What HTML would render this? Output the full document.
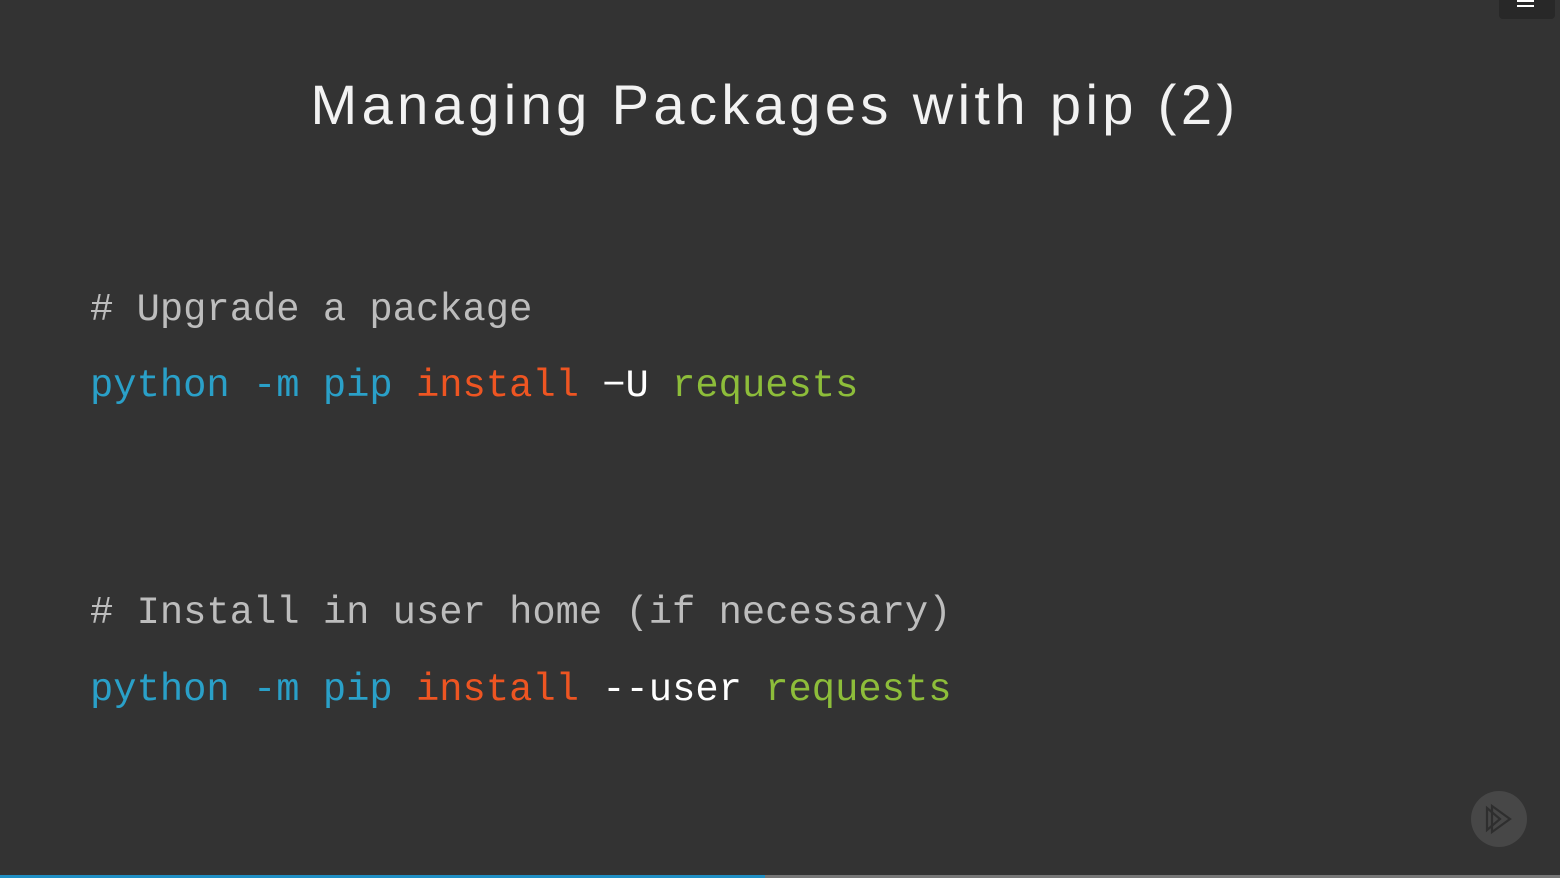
<!DOCTYPE html>
<html><head><style>
html,body{margin:0;padding:0}
body{width:1560px;height:878px;background:#333333;position:relative;overflow:hidden;font-family:"Liberation Sans",sans-serif}
.t{position:absolute;left:0;width:1550px;top:70px;text-align:center;color:#f2f2f2;font-size:56px;line-height:70px;letter-spacing:4.4px}
.c{position:absolute;left:90px;font-family:"Liberation Mono",monospace;font-size:38.8px;line-height:50px;white-space:pre;color:#fff}
.g{color:#bdbdbd}.b{color:#2aa0c8}.r{color:#ee5522}.gr{color:#8dbd3a}
</style></head><body>
<div class="t">Managing Packages with pip (2)</div>
<div class="c g" style="top:285px"># Upgrade a package</div>
<div class="c" style="top:361px"><span class="b">python -m pip</span> <span class="r">install</span> −U <span class="gr">requests</span></div>
<div class="c g" style="top:588px"># Install in user home (if necessary)</div>
<div class="c" style="top:665px"><span class="b">python -m pip</span> <span class="r">install</span> --user <span class="gr">requests</span></div>
<div style="position:absolute;left:1499px;top:0;width:56px;height:19px;background:#282828;border-radius:0 0 4px 4px"></div>
<div style="position:absolute;left:1517px;top:0;width:17px;height:2px;background:#fff"></div>
<div style="position:absolute;left:1517px;top:5px;width:17px;height:2px;background:#fff"></div>
<div style="position:absolute;left:1471px;top:791px;width:56px;height:56px;border-radius:50%;background:#474747"></div>
<svg style="position:absolute;left:1471px;top:791px" width="56" height="56"><polygon points="16,17 16,39 29,28" fill="none" stroke="#2e2e2e" stroke-width="2.2"/><polygon points="21,15 21,41 39,28" fill="none" stroke="#2e2e2e" stroke-width="2.2"/></svg>
<div style="position:absolute;left:0;top:875px;width:765px;height:3px;background:#1f8fc4"></div>
<div style="position:absolute;left:765px;top:875px;width:795px;height:3px;background:#777"></div>
</body></html>
